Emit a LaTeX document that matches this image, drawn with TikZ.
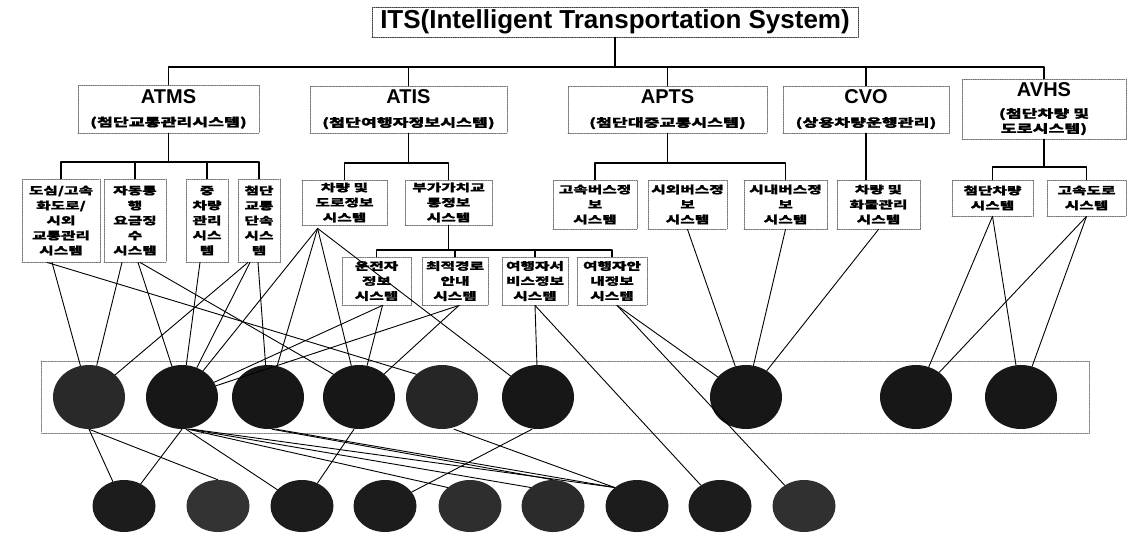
\documentclass[tikz,border=0pt]{standalone}
\usepackage{fontspec}
\setmainfont{Liberation Sans}
\newfontfamily\krfont{Noto Sans CJK KR}[FakeStretch=1.5, BoldFeatures={FakeBold=1.2}]
\usetikzlibrary{shapes.geometric, calc}
\newcommand{\syslabel}[1]{{\normalfont\bfseries\fontsize{20}{22}\selectfont #1}}

\begin{document}
\begin{tikzpicture}[x=1pt, y=-1pt, line cap=round, line join=round,
    sysbox/.style={draw=black!55, densely dotted, line width=0.8pt, fill=white, align=center, inner sep=0pt, font=\krfont\bfseries\fontsize{10.5}{15}\selectfont},
    topbox/.style={sysbox, font=\krfont\bfseries\fontsize{11.5}{15}\selectfont},
    titlebox/.style={sysbox, draw=black!75, font=\normalfont\bfseries\fontsize{26}{28}\selectfont},
    treeline/.style={line width=1.6pt, black},
    link/.style={line width=0.9pt, black},
    blob/.style={ellipse, fill=black!91, inner sep=0pt, minimum width=72pt, minimum height=64pt},
    subblob/.style={ellipse, fill=black!89, inner sep=0pt, minimum width=63pt, minimum height=52pt}]
  \useasboundingbox (0,0) rectangle (1131,536);

  % Titel
  \node[titlebox, minimum width=486pt, minimum height=30pt] (its) at (615,22) {ITS(Intelligent Transportation System)};

  % Erste Ebene
  \node[topbox, minimum width=181pt, minimum height=48pt] (atms) at (168.5,109) {\syslabel{ATMS}\\[8pt](첨단교통관리시스템)};
  \node[topbox, minimum width=197pt, minimum height=47pt] (atis) at (408.5,109.5) {\syslabel{ATIS}\\[8pt](첨단여행자정보시스템)};
  \node[topbox, minimum width=199pt, minimum height=47pt] (apts) at (667.5,109.5) {\syslabel{APTS}\\[8pt](첨단대중교통시스템)};
  \node[topbox, minimum width=166pt, minimum height=47pt] (cvo) at (866,109.5) {\syslabel{CVO}\\[8pt](상용차량운행관리)};
  \node[topbox, minimum width=164pt, minimum height=60pt] (avhs) at (1044,109) {\syslabel{AVHS}\\[6pt](첨단차량 및\\도로시스템)};

  \coordinate (bus) at (0,67);
  \draw[treeline] (its.south) -- (its.south |- bus);
  \draw[treeline] (atms.north) -- (atms.north |- bus) -| (avhs.north);
  \draw[treeline] (atis.north) -- (atis.north |- bus);
  \draw[treeline] (apts.north) -- (apts.north |- bus);
  \draw[treeline] (cvo.north) -- (cvo.north |- bus);

  % ATMS
  \node[sysbox, minimum width=78pt, minimum height=83pt] (m1) at (61,220.5) {도심/고속\\화도로/\\시외\\교통관리\\시스템};
  \node[sysbox, minimum width=62pt, minimum height=83pt] (m2) at (135,220.5) {자동통\\행\\요금징\\수\\시스템};
  \node[sysbox, minimum width=42pt, minimum height=83pt] (m3) at (207,220.5) {중\\차량\\관리\\시스\\템};
  \node[sysbox, minimum width=42pt, minimum height=83pt] (m4) at (259,220.5) {첨단\\교통\\단속\\시스\\템};
  \coordinate (busm) at (0,162);
  \draw[treeline] (atms.south) -- (atms.south |- busm);
  \draw[treeline] (m1.north) -- (m1.north |- busm) -| (m4.north);
  \draw[treeline] (m2.north) -- (m2.north |- busm);
  \draw[treeline] (m3.north) -- (m3.north |- busm);

  % ATIS
  \node[sysbox, minimum width=85pt, minimum height=45pt] (va) at (344.5,202.5) {차량 및\\도로정보\\시스템};
  \node[sysbox, minimum width=87pt, minimum height=45pt] (vb) at (448.5,202.5) {부가가치교\\통정보\\시스템};
  \coordinate (busv) at (0,163);
  \draw[treeline] (atis.south) -- (atis.south |- busv);
  \draw[treeline] (va.north) -- (va.north |- busv) -| (vb.north);

  \node[sysbox, minimum width=69pt, minimum height=48pt] (ta) at (376.5,281) {운전자\\정보\\시스템};
  \node[sysbox, minimum width=66pt, minimum height=48pt] (tb) at (455,281) {최적경로\\안내\\시스템};
  \node[sysbox, minimum width=66pt, minimum height=48pt] (tc) at (535,281) {여행자서\\비스정보\\시스템};
  \node[sysbox, minimum width=70pt, minimum height=48pt] (td) at (612,281) {여행자안\\내정보\\시스템};
  \coordinate (bust) at (0,250);
  \draw[treeline] (vb.south) -- (vb.south |- bust);
  \draw[treeline] (ta.north) -- (ta.north |- bust) -| (td.north);
  \draw[treeline] (tb.north) -- (tb.north |- bust);
  \draw[treeline] (tc.north) -- (tc.north |- bust);

  % APTS, CVO
  \node[sysbox, minimum width=84pt, minimum height=49pt] (pa) at (595,204.5) {고속버스정\\보\\시스템};
  \node[sysbox, minimum width=79pt, minimum height=49pt] (pb) at (687.5,204.5) {시외버스정\\보\\시스템};
  \node[sysbox, minimum width=83pt, minimum height=49pt] (pc) at (785.5,204.5) {시내버스정\\보\\시스템};
  \coordinate (busp) at (0,163);
  \draw[treeline] (apts.south) -- (apts.south |- busp);
  \draw[treeline] (pa.north) -- (pa.north |- busp) -| (pc.north);

  \node[sysbox, minimum width=83pt, minimum height=49pt] (ca) at (878.5,204.5) {차량 및\\화물관리\\시스템};
  \draw[treeline] (cvo.south) -- (cvo.south |- ca.north);

  % AVHS
  \node[sysbox, minimum width=81pt, minimum height=36pt] (ha) at (992.5,198) {첨단차량\\시스템};
  \node[sysbox, minimum width=79pt, minimum height=36pt] (hb) at (1086.5,198) {고속도로\\시스템};
  \coordinate (bush) at (0,167);
  \draw[treeline] (avhs.south) -- (avhs.south |- bush);
  \draw[treeline] (ha.north) -- (ha.north |- bush) -| (hb.north);

  % Band und Kreise
  \draw[draw=black!50, densely dotted, line width=0.8pt] (41,361) rectangle (1089,433);
  \node[blob, fill=black!84] (c1) at (89,397) {};
  \node[blob] (c2) at (182,397) {};
  \node[blob] (c3) at (268,397) {};
  \node[blob] (c4) at (359,397) {};
  \node[blob, fill=black!85] (c5) at (442,397) {};
  \node[blob] (c6) at (538,397) {};
  \node[blob] (c7) at (746,397) {};
  \node[blob] (c8) at (916,397) {};
  \node[blob] (c9) at (1021,397) {};

  \node[subblob] (d1) at (124,506) {};
  \node[subblob, fill=black!80] (d2) at (218,506) {};
  \node[subblob] (d3) at (302,506) {};
  \node[subblob] (d4) at (385,506) {};
  \node[subblob, fill=black!82] (d5) at (470,506) {};
  \node[subblob, fill=black!83] (d6) at (553,506) {};
  \node[subblob] (d7) at (637,506) {};
  \node[subblob] (d8) at (720,506) {};
  \node[subblob, fill=black!81] (d9) at (804,506) {};

  % Verbindungen nach oben
  \draw[link] ([xshift=-9pt]m1.south) -- (c1);
  \draw[link] ([xshift=-14pt]m1.south) -- (c5.north west);
  \draw[link] ([xshift=-13pt]m2.south) -- (c1);
  \draw[link] ([xshift=3pt]m2.south) -- (c2);
  \draw[link] ([xshift=5pt]m2.south) -- (c4.north west);
  \draw[link] ([xshift=-7pt]m3.south) -- (c2);
  \draw[link] ([xshift=-11pt]m4.south) -- (c1);
  \draw[link] ([xshift=-9pt]m4.south) -- (c2);
  \draw[link] ([xshift=-1pt]m4.south) -- (c3);

  \coordinate (hub) at ($(va.south west)+(16,3)$);
  \draw[link] (hub) -- (c2);
  \draw[link] (hub) -- (c3);
  \draw[link] (hub) -- (c4);
  \draw[link] (hub) -- (c6);

  \draw[link] ([xshift=6pt]ta.south) -- (c2);
  \draw[link] ([xshift=6pt]ta.south) -- (c4);
  \draw[link] ([xshift=4pt]tb.south) -- (c2);
  \draw[link] ([xshift=4pt]tb.south) -- (c4);
  \draw[link] (tc.south) -- (c6);
  \draw[link] ([xshift=5pt]td.south) -- (c7);

  \draw[link] (pb.south) -- (c7);
  \draw[link] (pc.south) -- (c7);
  \draw[link] (ca.south) -- (c7);
  \draw[link] (ha.south) -- (c8);
  \draw[link] (ha.south) -- (c9);
  \draw[link] (hb.south) -- (c8);
  \draw[link] (hb.south) -- (c9);

  % Verbindungen nach unten
  \draw[link] (c1.south) -- (d1);
  \draw[link] (c1.south) -- (d2.north);
  \draw[link] (c2.south) -- (d1);
  \draw[link] ([xshift=4pt]c2.south) -- (d3);
  \draw[link] ([xshift=6pt]c2.south) -- (d5.north west);
  \draw[link] ([xshift=8pt]c2.south) -- (d6.north west);
  \draw[link] ([xshift=10pt]c2.south) -- (d7.north west);
  \draw[link] ([xshift=4pt]c3.south) -- (d6.north);
  \draw[link] ([xshift=8pt]c3.south) -- (d7.north west);
  \draw[link] ([xshift=-5pt]c4.south) -- (d3);
  \draw[link] ([xshift=12pt]c5.south) -- (d7.north west);
  \draw[link] ([xshift=-6pt]c6.south) -- (d4);
  \draw[link] (tc.south) -- (d8);
  \draw[link] ([xshift=5pt]td.south) -- (d9);
\end{tikzpicture}
\end{document}
